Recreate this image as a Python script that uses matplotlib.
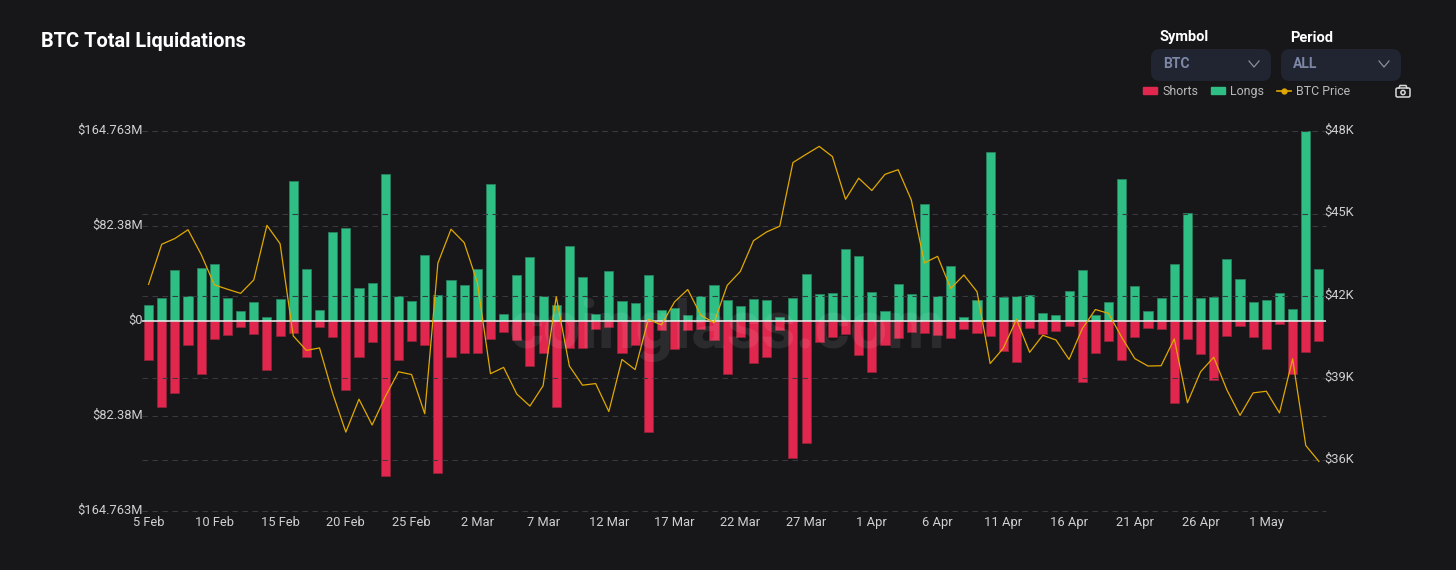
import matplotlib
matplotlib.use("Agg")
from matplotlib import pyplot as plt
from matplotlib.lines import Line2D
from matplotlib.patches import Patch, FancyBboxPatch, Circle
from matplotlib.transforms import IdentityTransform, ScaledTranslation
import numpy as np

W, H = 1456, 570
BG = "#17171a"
GREEN = "#2fbf85"
RED = "#e2274e"
YELLOW = "#e0a800"
TEXT = "#d0d0d2"
GRID = "#3a3a3e"

# all in $M, one entry a day from 5 Feb to 5 May
longs = [14.2, 19.9, 44.5, 22.3, 46.0, 49.7, 20.2, 8.7, 17.1, 4.0,
         19.4, 121.7, 45.1, 10.1, 77.2, 80.9, 28.9, 32.9, 127.5, 22.0,
         17.6, 57.5, 22.8, 35.8, 31.2, 45.4, 119.1, 6.1, 40.5, 55.5,
         22.0, 14.2, 65.0, 38.4, 6.1, 43.4, 17.6, 15.9, 39.9, 10.1,
         11.3, 5.5, 21.7, 31.5, 18.2, 13.3, 19.4, 18.8, 3.8, 20.2,
         41.0, 23.7, 24.6, 62.4, 56.6, 25.7, 9.0, 32.1, 23.4, 101.5,
         21.7, 48.0, 3.8, 18.5, 146.8, 21.4, 22.0, 22.8, 7.2, 5.8,
         26.6, 44.8, 5.2, 16.5, 123.1, 30.6, 9.0, 20.5, 49.7, 93.6,
         20.5, 21.1, 54.0, 36.7, 16.5, 18.8, 24.9, 10.7, 164.763, 45.1]
shorts = [33.5, 74.3, 62.1, 20.8, 45.7, 15.0, 11.6, 4.6, 11.3, 42.5,
          13.0, 10.1, 31.2, 4.9, 13.3, 59.2, 30.9, 17.9, 134.1, 33.8,
          17.1, 20.2, 131.2, 30.9, 27.2, 27.7, 15.3, 9.0, 16.2, 39.0,
          27.7, 74.6, 22.8, 22.8, 6.4, 4.6, 27.7, 20.2, 95.7, 7.2,
          24.3, 7.8, 6.6, 15.9, 45.7, 13.3, 36.4, 30.9, 7.5, 118.8,
          105.5, 17.6, 13.6, 10.7, 29.5, 43.6, 20.2, 14.5, 9.2, 10.1,
          12.1, 14.2, 6.4, 10.4, 13.0, 26.0, 35.0, 5.8, 10.7, 8.1,
          3.8, 52.3, 27.2, 17.3, 33.8, 13.3, 6.1, 6.4, 70.5, 15.6,
          28.6, 51.2, 13.0, 4.0, 13.6, 23.7, 2.6, 45.4, 26.3, 17.3]
# price in $K
price = [42.42, 43.88, 44.09, 44.41, 43.51, 42.40, 42.24, 42.09, 42.58, 44.57,
         43.90, 40.54, 40.01, 40.10, 38.44, 37.03, 38.23, 37.29, 38.32, 39.23,
         39.13, 37.70, 43.19, 44.43, 43.94, 42.49, 39.16, 39.39, 38.42, 37.98,
         38.72, 41.97, 39.44, 38.74, 38.80, 37.78, 39.68, 39.31, 41.14, 40.94,
         41.78, 42.23, 41.29, 41.02, 42.38, 42.89, 44.01, 44.33, 44.54, 46.86,
         47.16, 47.45, 47.08, 45.52, 46.29, 45.84, 46.43, 46.60, 45.50, 43.20,
         43.44, 42.27, 42.76, 42.15, 39.53, 40.09, 41.14, 39.94, 40.56, 40.39,
         39.68, 40.80, 41.50, 41.36, 40.49, 39.71, 39.44, 39.45, 40.43, 38.10,
         39.23, 39.76, 38.57, 37.64, 38.46, 38.52, 37.73, 39.70, 36.54, 35.96]
date_labels = ["5 Feb", "10 Feb", "15 Feb", "20 Feb", "25 Feb", "2 Mar", "7 Mar",
               "12 Mar", "17 Mar", "22 Mar", "27 Mar", "1 Apr", "6 Apr", "11 Apr",
               "16 Apr", "21 Apr", "26 Apr", "1 May"]
left_ticks = [164.763, 82.38, 0, -82.38, -164.763]
left_labels = ["$164.763M", "$82.38M", "$0", "$82.38M", "$164.763M"]
right_ticks = [36, 39, 42, 45, 48]
right_labels = ["$36K", "$39K", "$42K", "$45K", "$48K"]

plt.rcParams["font.family"] = ["Roboto", "DejaVu Sans"]


def fx(px):
    return px / W


def fy(py):
    return 1 - py / H


def nudge(labels, dx, dy):
    # shift tick labels by a few pixels
    off = ScaledTranslation(dx / 100, dy / 100, fig.dpi_scale_trans)
    for lab in labels:
        lab.set_transform(lab.get_transform() + off)


fig = plt.figure(figsize=(W / 100, H / 100), dpi=100, facecolor=BG)
left, right, top, bottom = 142, 1325.5, 131.3, 511.3
ax = fig.add_axes([fx(left), fy(bottom), (right - left) / W, (bottom - top) / H])
ax.set_facecolor("none")
x = np.arange(len(longs))

ax.bar(x, longs, width=0.69, color=GREEN, edgecolor="#28805f", linewidth=0.6, zorder=3)
ax.bar(x, -np.array(shorts), width=0.69, color=RED, edgecolor="#8e2339", linewidth=0.6, zorder=3)
ax.axhline(0, color="#f2f2f2", lw=1.1, zorder=4)
ax.set_xlim(-0.5, 89.5)
ax.set_ylim(-164.763, 164.763)
ax.set_yticks(left_ticks)
ax.set_yticklabels(left_labels)
ax.set_xticks(x[::5])
ax.set_xticklabels(date_labels)
ax.tick_params(axis="both", length=0, labelsize=9.3, labelcolor=TEXT)
ax.tick_params(axis="x", pad=3.5)
ax.tick_params(axis="y", pad=0)
ax.grid(axis="y", color=GRID, lw=0.8, ls=(0, (5, 4)), zorder=0, clip_on=False)
for s in ax.spines.values():
    s.set_visible(False)
nudge(ax.get_yticklabels(), 1, 2)

# second scale for the price
ax2 = ax.twinx()
ax2.set_facecolor("none")
ax2.plot(x, price, color=YELLOW, lw=0.9, zorder=5)
ax2.set_ylim(48 - (bottom - top) / 27.42, 48)
ax2.set_yticks(right_ticks)
ax2.set_yticklabels(right_labels)
ax2.tick_params(axis="y", length=0, labelsize=9.3, labelcolor=TEXT, pad=0)
ax2.grid(axis="y", color=GRID, lw=0.8, ls=(0, (5, 4)), zorder=0)
for s in ax2.spines.values():
    s.set_visible(False)
nudge(ax2.get_yticklabels(), -1, 2.5)

# watermark
fig.text(fx(727), fy(348), "coinglass.com", color="white", alpha=0.085, fontsize=48,
         fontweight="bold", ha="center", va="baseline", zorder=6)

# header
fig.text(fx(41), fy(41.5), "BTC Total Liquidations", color="white", fontsize=14.4,
         fontweight="bold", va="center")
for px, name, val in [(1151, "Symbol", "BTC"), (1281, "Period", "ALL")]:
    # box drawn in pixels
    fig.add_artist(FancyBboxPatch((px, H - 81), 120, 32,
                                  boxstyle="round,pad=0,rounding_size=9",
                                  transform=IdentityTransform(),
                                  facecolor="#212431", edgecolor="none"))
    fig.text(fx(px + 9), fy(37.5), name, color="white", fontsize=10.5, fontweight="bold", va="center")
    fig.text(fx(px + 12), fy(63.5), val, color="#7c88a6", fontsize=10, fontweight="bold", va="center")
    fig.add_artist(Line2D([fx(px + 98), fx(px + 103), fx(px + 108)], [fy(61), fy(67), fy(61)],
                          color="#8a8f9c", lw=0.9))

handles = [Patch(color=RED), Patch(color=GREEN),
           Line2D([0], [0], color=YELLOW, lw=1.2, marker="o", ms=3.5,
                  markerfacecolor=YELLOW, markeredgecolor=YELLOW)]
fig.legend(handles, ["Shorts", "Longs", "BTC Price"], ncol=3, frameon=False, fontsize=8.9,
           labelcolor="#b9b9bc", loc="center left", bbox_to_anchor=(fx(1143), fy(91)),
           borderpad=0, borderaxespad=0,
           handlelength=1.13, handleheight=0.47, handletextpad=0.42, columnspacing=1.05)

# camera icon
fig.add_artist(FancyBboxPatch((1396, H - 97), 14, 9,
                              boxstyle="round,pad=0,rounding_size=1.5",
                              transform=IdentityTransform(), facecolor="none",
                              edgecolor="#d8d8d8", lw=1.1))
fig.add_artist(Line2D([fx(1399), fx(1400), fx(1406), fx(1407)], [fy(88), fy(85.5), fy(85.5), fy(88)],
                      color="#d8d8d8", lw=1.1))
fig.add_artist(Circle((1403 / 100, (H - 92.5) / 100), 2.1 / 100, transform=fig.dpi_scale_trans,
                      facecolor="none", edgecolor="#d8d8d8", lw=1.1))

fig.savefig("out.png", dpi=100, facecolor=BG)
